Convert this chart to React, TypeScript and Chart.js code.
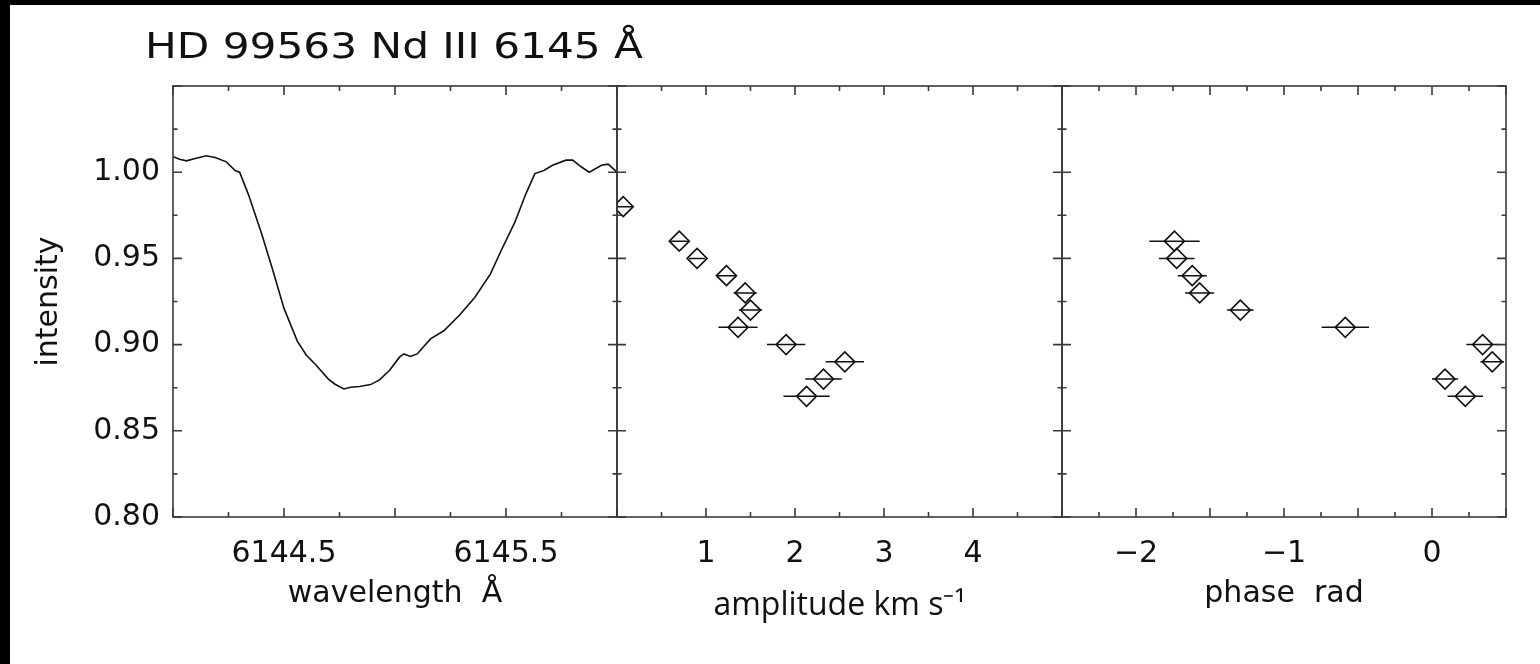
import React, { useEffect, useRef } from 'react';
import { Chart, registerables } from 'chart.js';

Chart.register(...registerables);

// ---------------- data ----------------
const TITLE_TEXT = 'HD 99563 Nd III 6145 Å';

const wavelength = [
  6144.0, 6144.03, 6144.06, 6144.1, 6144.15, 6144.19, 6144.24, 6144.28, 6144.3, 6144.34,
  6144.4, 6144.45, 6144.5, 6144.56, 6144.6, 6144.645, 6144.7, 6144.73, 6144.77, 6144.8,
  6144.84, 6144.89, 6144.93, 6144.975, 6145.02, 6145.04, 6145.07, 6145.1, 6145.16, 6145.22,
  6145.29, 6145.36, 6145.43, 6145.48, 6145.54, 6145.59, 6145.63, 6145.67, 6145.71, 6145.77,
  6145.8, 6145.84, 6145.875, 6145.93, 6145.96, 6146.0,
];
const intensity = [
  1.009, 1.0075, 1.0066, 1.008, 1.0095, 1.0085, 1.006, 1.001, 1.0, 0.987,
  0.964, 0.943, 0.921, 0.902, 0.894, 0.888, 0.88, 0.877, 0.8743, 0.8753,
  0.8757, 0.8768, 0.8795, 0.885, 0.8927, 0.8946, 0.8931, 0.8946, 0.9033, 0.908,
  0.917, 0.9275, 0.941, 0.955, 0.971, 0.9876, 0.9992, 1.001, 1.004, 1.007,
  1.007, 1.003, 1.0, 1.004, 1.0047, 1.0,
];

const amplitude = [0.07, 0.7, 0.9, 1.23, 1.44, 1.5, 1.36, 1.9, 2.56, 2.32, 2.13];
const amplitudeIntensity = [0.98, 0.96, 0.95, 0.94, 0.93, 0.92, 0.91, 0.9, 0.89, 0.88, 0.87];
const amplitudeError = [0.11, 0.1, 0.09, 0.11, 0.13, 0.13, 0.22, 0.215, 0.215, 0.205, 0.26];

const phase = [-1.74, -1.725, -1.62, -1.57, -1.295, -0.586, 0.342, 0.407, 0.088, 0.225];
const phaseIntensity = [0.96, 0.95, 0.94, 0.93, 0.92, 0.91, 0.9, 0.89, 0.88, 0.87];
const phaseError = [0.17, 0.12, 0.098, 0.098, 0.09, 0.16, 0.11, 0.08, 0.088, 0.12];

const intensityTickLabels = [0.8, 0.85, 0.9, 0.95, 1.0];
const wavelengthTickLabels = [6144.5, 6145.5];
const amplitudeTickLabels = [1, 2, 3, 4];
const phaseTickLabels = [-2, -1, 0];

// ---------------- layout ----------------
const W = 1540;
const H = 664;
const PLOT_TOP = 86;
const PLOT_BOTTOM = 517;
const INK = '#111';
const FRAME = '#3a3a3a';
const IDL_FONT = 'DejaVu Sans';

const has = (arr: number[], v: number) => arr.some((t) => Math.abs(t - v) < 1e-6);

const frameTicksPlugin = {
  id: 'frameTicks',
  afterDatasetsDraw(chart: any, _args: any, opts: any) {
    const { ctx, chartArea: a, scales } = chart;
    const xs = scales.x;
    const ys = scales.y;
    ctx.save();
    // error bars
    chart.data.datasets.forEach((ds: any) => {
      if (!ds.xErr) return;
      ctx.save();
      ctx.beginPath();
      ctx.rect(a.left, a.top, a.right - a.left, a.bottom - a.top);
      ctx.clip();
      ctx.strokeStyle = INK;
      ctx.lineWidth = 1.5;
      ctx.beginPath();
      ds.data.forEach((p: any, i: number) => {
        const e = ds.xErr[i];
        const py = ys.getPixelForValue(p.y);
        ctx.moveTo(xs.getPixelForValue(p.x - e), py);
        ctx.lineTo(xs.getPixelForValue(p.x + e), py);
      });
      ctx.stroke();
      ctx.restore();
    });
    // frame
    ctx.strokeStyle = FRAME;
    ctx.lineWidth = 1.6;
    ctx.strokeRect(a.left, a.top, a.right - a.left, a.bottom - a.top);
    ctx.beginPath();
    const xn = Math.round((opts.xMax - opts.xMin) / opts.xMinor);
    for (let i = 0; i <= xn; i++) {
      const v = opts.xMin + i * opts.xMinor;
      const px = xs.getPixelForValue(v);
      const len = i % 2 === 0 ? 9 : 5;
      ctx.moveTo(px, a.bottom);
      ctx.lineTo(px, a.bottom - len);
      ctx.moveTo(px, a.top);
      ctx.lineTo(px, a.top + len);
    }
    const yn = Math.round((1.05 - 0.8) / 0.025);
    for (let i = 0; i <= yn; i++) {
      const v = 0.8 + i * 0.025;
      const py = ys.getPixelForValue(v);
      const len = i % 2 === 0 ? 9 : 4.5;
      ctx.moveTo(a.left, py);
      ctx.lineTo(a.left + len, py);
      ctx.moveTo(a.right, py);
      ctx.lineTo(a.right - len, py);
    }
    ctx.stroke();
    ctx.restore();
  },
};

const titlePlugin = {
  id: 'figTitle',
  afterDraw(chart: any, _args: any, opts: any) {
    if (!opts || !opts.text) return;
    const ctx = chart.ctx;
    ctx.save();
    ctx.font = `35px "${IDL_FONT}"`;
    ctx.fillStyle = INK;
    ctx.textAlign = 'left';
    ctx.textBaseline = 'alphabetic';
    const w = ctx.measureText(opts.text).width;
    const sx = 498 / w;
    ctx.translate(145, 58);
    ctx.scale(sx, 1);
    ctx.fillText(opts.text, 0, 0);
    ctx.restore();
  },
};

type Spec = {
  left: number;
  right: number;
  showY: boolean;
  xMin: number;
  xMax: number;
  xStep: number;
  xMinor: number;
  xLabels: number[];
  fmt: (v: number) => string;
  xTitle: string;
  xTitleFont: any;
  xTitlePad: number;
  datasets: any[];
  title?: string;
};

function buildConfig(spec: Spec): any {
  return {
    type: 'scatter',
    data: { datasets: spec.datasets },
    options: {
      responsive: false,
      animation: false,
      devicePixelRatio: 1,
      events: [],
      layout: {
        padding: { left: spec.showY ? 0 : spec.left, right: W - spec.right, top: PLOT_TOP, bottom: 0 },
      },
      plugins: {
        legend: { display: false },
        tooltip: { enabled: false },
        title: { display: false },
        frameTicks: { xMin: spec.xMin, xMax: spec.xMax, xMinor: spec.xMinor },
        figTitle: { text: spec.title || '' },
      },
      scales: {
        x: {
          type: 'linear',
          min: spec.xMin,
          max: spec.xMax,
          grid: { display: false, drawTicks: false },
          border: { display: false },
          ticks: {
            stepSize: spec.xStep,
            autoSkip: false,
            maxRotation: 0,
            padding: 19,
            color: INK,
            font: { family: IDL_FONT, size: 30 },
            callback: (v: any) => (has(spec.xLabels, Number(v)) ? spec.fmt(Number(v)) : ''),
          },
          title: {
            display: true,
            text: spec.xTitle,
            color: INK,
            font: spec.xTitleFont,
            padding: { top: 0, bottom: spec.xTitlePad },
          },
          afterFit: (s: any) => {
            s.height = H - PLOT_BOTTOM;
          },
        },
        y: {
          type: 'linear',
          min: 0.8,
          max: 1.05,
          display: spec.showY,
          grid: { display: false, drawTicks: false },
          border: { display: false },
          ticks: {
            stepSize: 0.05,
            padding: 13,
            color: INK,
            font: { family: IDL_FONT, size: 30 },
            callback: (v: any) => (has(intensityTickLabels, Number(v)) ? Number(v).toFixed(2) : ''),
          },
          title: {
            display: spec.showY,
            text: 'intensity',
            color: INK,
            font: { family: IDL_FONT, size: 30 },
            padding: { top: 31, bottom: 0 },
          },
          afterFit: (s: any) => {
            s.width = spec.showY ? spec.left : 0;
          },
        },
      },
    },
    plugins: [frameTicksPlugin, titlePlugin],
  };
}

const pointStyle = {
  pointStyle: 'rectRot',
  pointRadius: 10,
  pointBorderWidth: 1.6,
  pointBorderColor: INK,
  pointBackgroundColor: 'rgba(0,0,0,0)',
  showLine: false,
  clip: 0,
};

export default function App() {
  const c1 = useRef<HTMLCanvasElement>(null);
  const c2 = useRef<HTMLCanvasElement>(null);
  const c3 = useRef<HTMLCanvasElement>(null);

  useEffect(() => {
    const specs: Spec[] = [
      {
        left: 173,
        right: 617,
        showY: true,
        xMin: 6144.0,
        xMax: 6146.0,
        xStep: 0.5,
        xMinor: 0.25,
        xLabels: wavelengthTickLabels,
        fmt: (v) => v.toFixed(1),
        xTitle: 'wavelength  Å',
        xTitleFont: { family: IDL_FONT, size: 30 },
        xTitlePad: 52,
        title: TITLE_TEXT,
        datasets: [
          {
            data: wavelength.map((x, i) => ({ x, y: intensity[i] })),
            showLine: true,
            borderColor: INK,
            borderWidth: 1.6,
            pointRadius: 0,
            tension: 0,
            fill: false,
          },
        ],
      },
      {
        left: 617,
        right: 1062,
        showY: false,
        xMin: 0,
        xMax: 5,
        xStep: 1,
        xMinor: 0.5,
        xLabels: amplitudeTickLabels,
        fmt: (v) => String(v),
        xTitle: 'amplitude km s⁻¹',
        xTitleFont: { family: 'Open Sans', size: 32 },
        xTitlePad: 39,
        datasets: [
          {
            data: amplitude.map((x, i) => ({ x, y: amplitudeIntensity[i] })),
            xErr: amplitudeError,
            ...pointStyle,
          },
        ],
      },
      {
        left: 1062,
        right: 1506,
        showY: false,
        xMin: -2.5,
        xMax: 0.5,
        xStep: 0.5,
        xMinor: 0.25,
        xLabels: phaseTickLabels,
        fmt: (v) => (v < 0 ? '−' + Math.abs(v) : String(v)),
        xTitle: 'phase  rad',
        xTitleFont: { family: IDL_FONT, size: 30 },
        xTitlePad: 52,
        datasets: [
          {
            data: phase.map((x, i) => ({ x, y: phaseIntensity[i] })),
            xErr: phaseError,
            ...pointStyle,
          },
        ],
      },
    ];
    const canvases = [c1.current, c2.current, c3.current];
    const charts = specs.map((s, i) => new Chart(canvases[i] as HTMLCanvasElement, buildConfig(s)));
    return () => charts.forEach((c) => c.destroy());
  }, []);

  const cstyle: React.CSSProperties = { position: 'absolute', left: 0, top: 0, width: W, height: H };
  return (
    <div style={{ position: 'absolute', left: 0, top: 0, width: W, height: H, background: '#000', overflow: 'hidden' }}>
      <div style={{ position: 'absolute', left: 10, top: 5, width: W - 10, height: H - 5, background: '#fff' }} />
      <canvas ref={c1} width={W} height={H} style={cstyle} />
      <canvas ref={c2} width={W} height={H} style={cstyle} />
      <canvas ref={c3} width={W} height={H} style={cstyle} />
    </div>
  );
}
